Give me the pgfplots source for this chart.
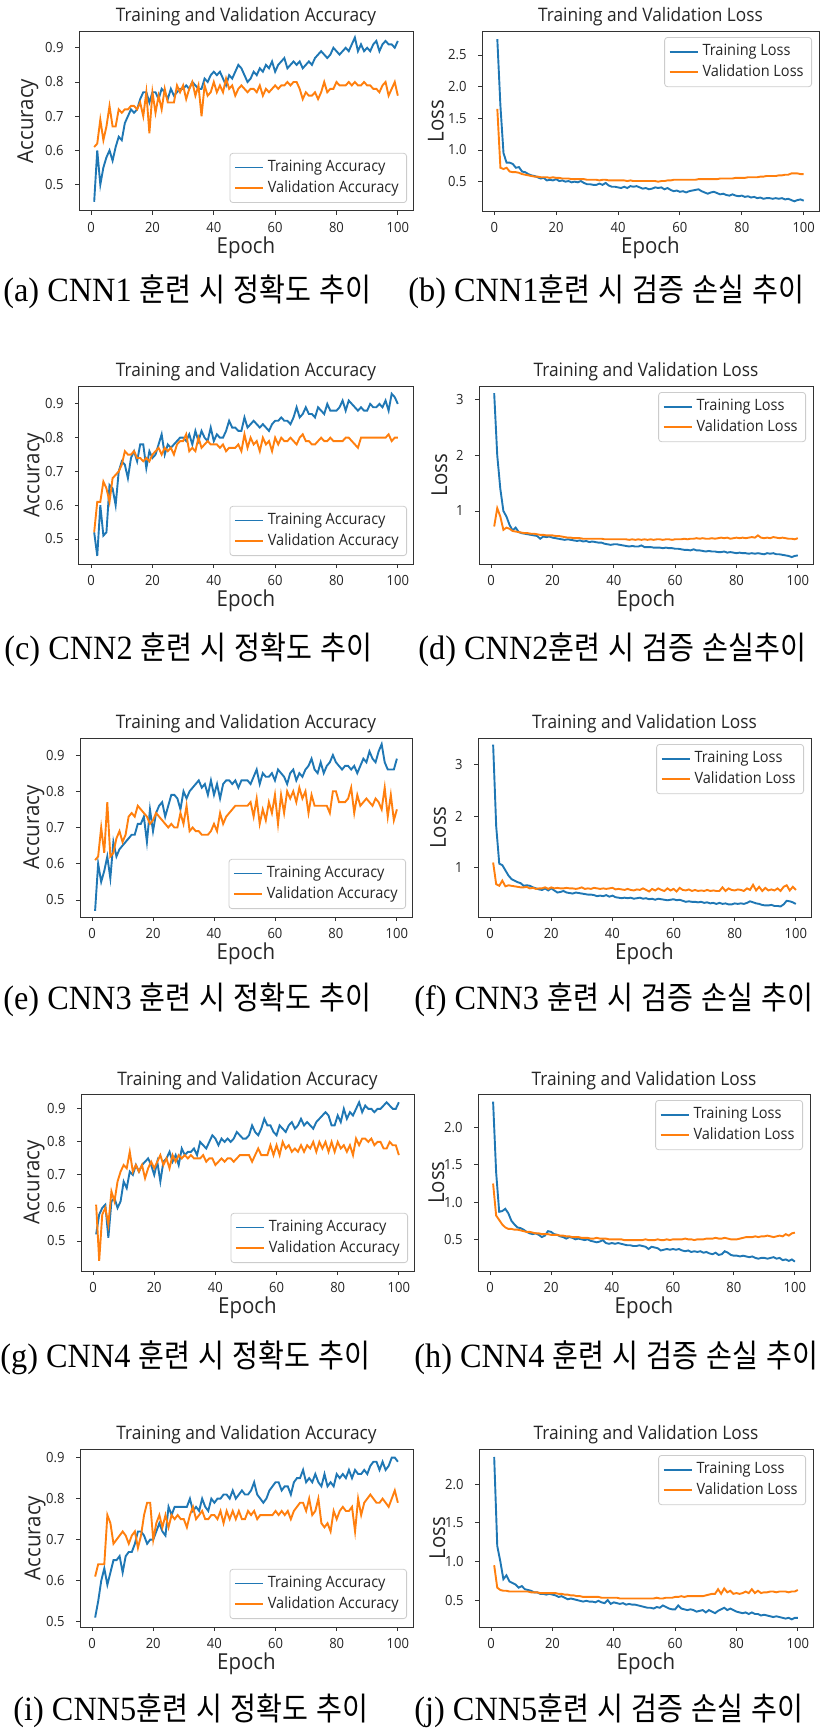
\documentclass[border=0pt]{standalone}
\usepackage{fontspec}
\usepackage{pgfplots}
\usepackage{pgfplotstable}
\pgfplotsset{compat=1.18}
\setmainfont{Open Sans}[FakeStretch=0.93]
\newfontfamily\capfont{Liberation Serif}[FakeStretch=0.95]
\newfontfamily\krfont{Noto Sans CJK KR}[FakeStretch=0.88,WordSpace=1.3]
\definecolor{C0}{RGB}{31,119,180}
\definecolor{C1}{RGB}{255,127,14}
\newcommand\tickf{\fontsize{7pt}{8pt}\selectfont}
\newcommand\titlef{\fontsize{9.3pt}{10pt}\selectfont}
\newcommand\labelf{\fontsize{11pt}{12pt}\selectfont}
\newcommand\legf{\fontsize{7.8pt}{9pt}\selectfont}
\newcommand\capL{\capfont\fontsize{17pt}{19pt}\selectfont}
\newcommand\capK{\krfont\fontsize{16pt}{19pt}\selectfont}

% ---------- CNN1 ----------
\pgfplotstableread[row sep=\\,header=false]{0.45\\0.60\\0.50\\0.55\\0.58\\0.60\\0.57\\0.61\\0.64\\0.63\\0.68\\0.70\\0.72\\0.71\\0.72\\0.75\\0.77\\0.77\\0.74\\0.77\\0.77\\0.75\\0.78\\0.77\\0.75\\0.78\\0.76\\0.77\\0.78\\0.78\\0.79\\0.78\\0.80\\0.79\\0.78\\0.78\\0.81\\0.80\\0.82\\0.83\\0.82\\0.83\\0.81\\0.79\\0.82\\0.81\\0.83\\0.85\\0.84\\0.82\\0.80\\0.81\\0.83\\0.82\\0.84\\0.83\\0.85\\0.84\\0.86\\0.83\\0.85\\0.86\\0.87\\0.84\\0.85\\0.86\\0.85\\0.86\\0.84\\0.85\\0.86\\0.85\\0.87\\0.88\\0.89\\0.88\\0.87\\0.88\\0.90\\0.89\\0.88\\0.89\\0.90\\0.89\\0.91\\0.93\\0.89\\0.91\\0.89\\0.90\\0.89\\0.91\\0.92\\0.89\\0.91\\0.92\\0.91\\0.91\\0.90\\0.92\\}\aTA
\pgfplotstableread[row sep=\\,header=false]{0.61\\0.62\\0.69\\0.63\\0.67\\0.73\\0.67\\0.67\\0.72\\0.71\\0.72\\0.72\\0.73\\0.73\\0.72\\0.74\\0.70\\0.77\\0.65\\0.77\\0.71\\0.76\\0.72\\0.78\\0.74\\0.74\\0.74\\0.79\\0.77\\0.79\\0.75\\0.78\\0.80\\0.76\\0.79\\0.70\\0.79\\0.76\\0.77\\0.80\\0.77\\0.79\\0.77\\0.81\\0.78\\0.79\\0.76\\0.78\\0.79\\0.78\\0.77\\0.78\\0.78\\0.77\\0.79\\0.76\\0.78\\0.77\\0.78\\0.79\\0.78\\0.79\\0.79\\0.80\\0.79\\0.80\\0.80\\0.78\\0.75\\0.77\\0.76\\0.76\\0.77\\0.75\\0.77\\0.80\\0.77\\0.78\\0.78\\0.80\\0.79\\0.79\\0.79\\0.80\\0.79\\0.80\\0.79\\0.79\\0.80\\0.79\\0.79\\0.78\\0.78\\0.77\\0.79\\0.80\\0.76\\0.78\\0.80\\0.76\\}\aVA
\pgfplotstableread[row sep=\\,header=false]{2.75\\1.70\\0.95\\0.80\\0.80\\0.78\\0.72\\0.73\\0.66\\0.65\\0.62\\0.60\\0.59\\0.57\\0.55\\0.56\\0.52\\0.53\\0.52\\0.54\\0.51\\0.52\\0.50\\0.51\\0.49\\0.50\\0.49\\0.51\\0.48\\0.46\\0.46\\0.45\\0.45\\0.47\\0.45\\0.48\\0.44\\0.42\\0.42\\0.41\\0.40\\0.42\\0.40\\0.43\\0.42\\0.43\\0.41\\0.39\\0.40\\0.38\\0.39\\0.41\\0.40\\0.41\\0.38\\0.40\\0.37\\0.35\\0.36\\0.34\\0.35\\0.33\\0.35\\0.36\\0.37\\0.38\\0.35\\0.33\\0.31\\0.33\\0.34\\0.32\\0.30\\0.31\\0.29\\0.28\\0.30\\0.28\\0.27\\0.28\\0.26\\0.27\\0.25\\0.26\\0.24\\0.25\\0.23\\0.24\\0.24\\0.23\\0.24\\0.23\\0.24\\0.22\\0.23\\0.21\\0.19\\0.21\\0.22\\0.20\\}\aTL
\pgfplotstableread[row sep=\\,header=false]{1.65\\0.72\\0.70\\0.72\\0.66\\0.65\\0.65\\0.64\\0.62\\0.61\\0.60\\0.59\\0.58\\0.58\\0.57\\0.57\\0.57\\0.56\\0.57\\0.56\\0.56\\0.55\\0.55\\0.55\\0.54\\0.54\\0.54\\0.54\\0.54\\0.53\\0.53\\0.53\\0.53\\0.52\\0.53\\0.53\\0.52\\0.52\\0.52\\0.52\\0.52\\0.52\\0.51\\0.52\\0.51\\0.51\\0.51\\0.51\\0.51\\0.51\\0.51\\0.51\\0.50\\0.51\\0.51\\0.52\\0.52\\0.53\\0.53\\0.53\\0.53\\0.53\\0.53\\0.53\\0.53\\0.54\\0.54\\0.54\\0.54\\0.54\\0.54\\0.54\\0.55\\0.55\\0.55\\0.55\\0.55\\0.56\\0.56\\0.56\\0.56\\0.57\\0.57\\0.57\\0.57\\0.58\\0.58\\0.59\\0.59\\0.59\\0.59\\0.60\\0.60\\0.61\\0.61\\0.63\\0.63\\0.63\\0.62\\0.62\\}\aVL
% ---------- CNN2 ----------
\pgfplotstableread[row sep=\\,header=false]{0.52\\0.45\\0.60\\0.51\\0.52\\0.66\\0.65\\0.60\\0.70\\0.73\\0.72\\0.68\\0.74\\0.76\\0.73\\0.78\\0.78\\0.71\\0.76\\0.74\\0.75\\0.78\\0.81\\0.75\\0.78\\0.77\\0.78\\0.79\\0.80\\0.80\\0.79\\0.81\\0.78\\0.82\\0.79\\0.82\\0.80\\0.79\\0.83\\0.79\\0.81\\0.80\\0.80\\0.82\\0.85\\0.83\\0.83\\0.82\\0.82\\0.86\\0.83\\0.84\\0.85\\0.84\\0.83\\0.84\\0.83\\0.82\\0.84\\0.85\\0.85\\0.86\\0.85\\0.85\\0.84\\0.86\\0.89\\0.86\\0.87\\0.89\\0.87\\0.87\\0.86\\0.89\\0.88\\0.87\\0.90\\0.88\\0.88\\0.88\\0.89\\0.91\\0.88\\0.91\\0.90\\0.89\\0.88\\0.89\\0.88\\0.88\\0.90\\0.89\\0.89\\0.90\\0.89\\0.91\\0.88\\0.93\\0.92\\0.90\\}\bTA
\pgfplotstableread[row sep=\\,header=false]{0.52\\0.61\\0.61\\0.67\\0.65\\0.61\\0.68\\0.69\\0.70\\0.72\\0.76\\0.75\\0.75\\0.76\\0.74\\0.74\\0.73\\0.74\\0.73\\0.75\\0.76\\0.77\\0.75\\0.77\\0.76\\0.77\\0.75\\0.78\\0.79\\0.79\\0.81\\0.76\\0.77\\0.76\\0.80\\0.77\\0.78\\0.79\\0.78\\0.78\\0.78\\0.77\\0.78\\0.76\\0.77\\0.77\\0.77\\0.78\\0.76\\0.81\\0.77\\0.80\\0.78\\0.79\\0.76\\0.80\\0.78\\0.79\\0.76\\0.80\\0.78\\0.80\\0.79\\0.79\\0.80\\0.79\\0.78\\0.80\\0.81\\0.79\\0.79\\0.78\\0.78\\0.79\\0.80\\0.79\\0.79\\0.80\\0.79\\0.79\\0.79\\0.79\\0.80\\0.80\\0.79\\0.78\\0.77\\0.80\\0.80\\0.80\\0.80\\0.80\\0.80\\0.80\\0.80\\0.80\\0.81\\0.79\\0.80\\0.80\\}\bVA
\pgfplotstableread[row sep=\\,header=false]{3.12\\2.00\\1.40\\1.00\\0.90\\0.75\\0.65\\0.70\\0.62\\0.60\\0.59\\0.58\\0.57\\0.56\\0.55\\0.50\\0.54\\0.53\\0.54\\0.52\\0.51\\0.50\\0.49\\0.48\\0.49\\0.48\\0.47\\0.46\\0.47\\0.45\\0.46\\0.44\\0.45\\0.44\\0.43\\0.43\\0.41\\0.40\\0.39\\0.40\\0.40\\0.39\\0.38\\0.37\\0.36\\0.37\\0.36\\0.36\\0.38\\0.35\\0.35\\0.35\\0.34\\0.34\\0.34\\0.33\\0.34\\0.33\\0.33\\0.32\\0.32\\0.31\\0.30\\0.30\\0.29\\0.31\\0.29\\0.29\\0.28\\0.27\\0.28\\0.27\\0.27\\0.26\\0.26\\0.27\\0.25\\0.26\\0.25\\0.24\\0.25\\0.24\\0.24\\0.23\\0.24\\0.23\\0.24\\0.23\\0.22\\0.24\\0.23\\0.24\\0.22\\0.22\\0.21\\0.20\\0.19\\0.17\\0.19\\0.20\\}\bTL
\pgfplotstableread[row sep=\\,header=false]{0.72\\1.05\\0.90\\0.66\\0.70\\0.68\\0.64\\0.63\\0.62\\0.61\\0.60\\0.60\\0.59\\0.59\\0.58\\0.57\\0.57\\0.56\\0.56\\0.56\\0.55\\0.55\\0.54\\0.53\\0.52\\0.52\\0.51\\0.51\\0.51\\0.50\\0.50\\0.50\\0.50\\0.50\\0.50\\0.50\\0.49\\0.49\\0.49\\0.49\\0.49\\0.49\\0.49\\0.49\\0.48\\0.49\\0.48\\0.49\\0.48\\0.49\\0.48\\0.49\\0.48\\0.49\\0.49\\0.48\\0.49\\0.49\\0.48\\0.49\\0.49\\0.49\\0.50\\0.49\\0.50\\0.50\\0.51\\0.50\\0.51\\0.50\\0.50\\0.51\\0.50\\0.51\\0.52\\0.51\\0.52\\0.50\\0.51\\0.52\\0.51\\0.52\\0.51\\0.52\\0.53\\0.52\\0.56\\0.52\\0.51\\0.52\\0.51\\0.53\\0.52\\0.51\\0.52\\0.51\\0.50\\0.50\\0.49\\0.51\\}\bVL
% ---------- CNN3 ----------
\pgfplotstableread[row sep=\\,header=false]{0.47\\0.60\\0.55\\0.58\\0.62\\0.56\\0.66\\0.62\\0.64\\0.65\\0.66\\0.67\\0.68\\0.68\\0.71\\0.71\\0.73\\0.66\\0.75\\0.69\\0.74\\0.76\\0.77\\0.73\\0.76\\0.79\\0.79\\0.78\\0.75\\0.80\\0.78\\0.80\\0.81\\0.82\\0.83\\0.81\\0.82\\0.79\\0.83\\0.79\\0.82\\0.78\\0.82\\0.83\\0.83\\0.82\\0.83\\0.81\\0.83\\0.83\\0.83\\0.82\\0.84\\0.86\\0.82\\0.85\\0.84\\0.84\\0.85\\0.83\\0.86\\0.85\\0.84\\0.82\\0.85\\0.86\\0.83\\0.85\\0.84\\0.86\\0.87\\0.89\\0.86\\0.85\\0.88\\0.85\\0.87\\0.88\\0.90\\0.88\\0.87\\0.86\\0.87\\0.87\\0.86\\0.87\\0.85\\0.87\\0.89\\0.88\\0.91\\0.89\\0.88\\0.91\\0.93\\0.88\\0.86\\0.86\\0.86\\0.89\\}\cTA
\pgfplotstableread[row sep=\\,header=false]{0.61\\0.62\\0.70\\0.63\\0.77\\0.62\\0.63\\0.67\\0.69\\0.66\\0.68\\0.73\\0.74\\0.73\\0.76\\0.75\\0.74\\0.73\\0.71\\0.72\\0.74\\0.73\\0.72\\0.71\\0.70\\0.71\\0.70\\0.70\\0.74\\0.71\\0.76\\0.69\\0.70\\0.69\\0.69\\0.68\\0.68\\0.68\\0.69\\0.71\\0.69\\0.74\\0.71\\0.73\\0.74\\0.75\\0.76\\0.76\\0.76\\0.76\\0.76\\0.77\\0.73\\0.78\\0.71\\0.75\\0.72\\0.77\\0.74\\0.79\\0.71\\0.79\\0.74\\0.80\\0.78\\0.80\\0.77\\0.81\\0.78\\0.80\\0.74\\0.79\\0.76\\0.76\\0.76\\0.76\\0.76\\0.74\\0.80\\0.80\\0.77\\0.77\\0.77\\0.78\\0.81\\0.74\\0.79\\0.76\\0.77\\0.78\\0.77\\0.76\\0.78\\0.77\\0.75\\0.81\\0.73\\0.79\\0.72\\0.75\\}\cVA
\pgfplotstableread[row sep=\\,header=false]{3.38\\1.80\\1.08\\1.05\\0.95\\0.85\\0.78\\0.75\\0.72\\0.70\\0.65\\0.66\\0.65\\0.62\\0.60\\0.58\\0.57\\0.60\\0.56\\0.60\\0.56\\0.52\\0.53\\0.55\\0.52\\0.51\\0.50\\0.52\\0.51\\0.50\\0.49\\0.48\\0.48\\0.47\\0.45\\0.46\\0.45\\0.47\\0.44\\0.46\\0.43\\0.42\\0.41\\0.42\\0.41\\0.42\\0.40\\0.41\\0.42\\0.40\\0.41\\0.39\\0.40\\0.38\\0.40\\0.39\\0.38\\0.37\\0.38\\0.39\\0.37\\0.38\\0.36\\0.34\\0.35\\0.34\\0.34\\0.33\\0.34\\0.32\\0.33\\0.31\\0.32\\0.30\\0.32\\0.30\\0.31\\0.29\\0.29\\0.31\\0.30\\0.31\\0.30\\0.32\\0.35\\0.33\\0.31\\0.30\\0.28\\0.27\\0.27\\0.28\\0.26\\0.26\\0.25\\0.29\\0.36\\0.35\\0.33\\0.30\\}\cTL
\pgfplotstableread[row sep=\\,header=false]{1.10\\0.68\\0.65\\0.75\\0.64\\0.66\\0.65\\0.64\\0.63\\0.62\\0.62\\0.63\\0.60\\0.61\\0.59\\0.60\\0.60\\0.62\\0.59\\0.62\\0.60\\0.61\\0.60\\0.60\\0.61\\0.60\\0.60\\0.59\\0.60\\0.62\\0.59\\0.60\\0.59\\0.61\\0.60\\0.59\\0.60\\0.59\\0.60\\0.61\\0.58\\0.59\\0.58\\0.57\\0.59\\0.57\\0.56\\0.58\\0.57\\0.60\\0.57\\0.54\\0.59\\0.56\\0.60\\0.57\\0.55\\0.60\\0.56\\0.59\\0.54\\0.61\\0.57\\0.56\\0.58\\0.55\\0.57\\0.55\\0.56\\0.55\\0.57\\0.55\\0.56\\0.55\\0.55\\0.62\\0.55\\0.60\\0.57\\0.56\\0.58\\0.57\\0.55\\0.60\\0.57\\0.67\\0.56\\0.63\\0.55\\0.61\\0.56\\0.58\\0.56\\0.60\\0.55\\0.63\\0.66\\0.56\\0.63\\0.57\\}\cVL
% ---------- CNN4 ----------
\pgfplotstableread[row sep=\\,header=false]{0.52\\0.58\\0.60\\0.61\\0.51\\0.62\\0.63\\0.60\\0.62\\0.68\\0.66\\0.71\\0.70\\0.73\\0.71\\0.73\\0.74\\0.75\\0.73\\0.70\\0.74\\0.68\\0.74\\0.75\\0.77\\0.74\\0.76\\0.73\\0.78\\0.76\\0.77\\0.77\\0.78\\0.76\\0.80\\0.79\\0.78\\0.80\\0.82\\0.81\\0.79\\0.81\\0.80\\0.81\\0.80\\0.81\\0.83\\0.82\\0.81\\0.81\\0.82\\0.85\\0.83\\0.82\\0.84\\0.87\\0.85\\0.85\\0.83\\0.82\\0.85\\0.84\\0.83\\0.85\\0.86\\0.84\\0.85\\0.87\\0.85\\0.86\\0.85\\0.84\\0.86\\0.87\\0.88\\0.89\\0.88\\0.85\\0.85\\0.88\\0.86\\0.90\\0.87\\0.89\\0.88\\0.90\\0.92\\0.89\\0.91\\0.90\\0.90\\0.89\\0.90\\0.90\\0.91\\0.92\\0.91\\0.90\\0.90\\0.92\\}\dTA
\pgfplotstableread[row sep=\\,header=false]{0.61\\0.44\\0.58\\0.60\\0.55\\0.65\\0.62\\0.68\\0.71\\0.73\\0.72\\0.77\\0.71\\0.73\\0.71\\0.73\\0.69\\0.72\\0.74\\0.72\\0.74\\0.76\\0.73\\0.75\\0.72\\0.76\\0.74\\0.76\\0.75\\0.76\\0.75\\0.76\\0.75\\0.75\\0.75\\0.76\\0.74\\0.75\\0.75\\0.73\\0.74\\0.75\\0.74\\0.75\\0.75\\0.74\\0.75\\0.76\\0.76\\0.76\\0.76\\0.74\\0.76\\0.78\\0.76\\0.76\\0.76\\0.79\\0.76\\0.79\\0.76\\0.80\\0.78\\0.79\\0.77\\0.78\\0.77\\0.79\\0.77\\0.79\\0.78\\0.80\\0.77\\0.80\\0.78\\0.80\\0.77\\0.80\\0.77\\0.80\\0.78\\0.79\\0.77\\0.79\\0.76\\0.81\\0.79\\0.81\\0.81\\0.80\\0.81\\0.79\\0.80\\0.80\\0.78\\0.78\\0.80\\0.79\\0.79\\0.76\\}\dVA
\pgfplotstableread[row sep=\\,header=false]{2.35\\1.40\\0.87\\0.88\\0.91\\0.85\\0.75\\0.70\\0.66\\0.65\\0.63\\0.60\\0.58\\0.57\\0.58\\0.56\\0.53\\0.55\\0.61\\0.60\\0.57\\0.56\\0.54\\0.53\\0.51\\0.53\\0.52\\0.50\\0.51\\0.50\\0.49\\0.50\\0.48\\0.47\\0.46\\0.47\\0.49\\0.45\\0.44\\0.45\\0.44\\0.45\\0.44\\0.43\\0.42\\0.42\\0.41\\0.41\\0.42\\0.41\\0.40\\0.37\\0.40\\0.39\\0.38\\0.35\\0.36\\0.37\\0.36\\0.37\\0.36\\0.37\\0.35\\0.34\\0.35\\0.33\\0.34\\0.33\\0.34\\0.32\\0.33\\0.31\\0.30\\0.32\\0.29\\0.30\\0.34\\0.32\\0.29\\0.28\\0.28\\0.27\\0.28\\0.27\\0.26\\0.27\\0.25\\0.24\\0.25\\0.25\\0.24\\0.25\\0.26\\0.24\\0.25\\0.22\\0.23\\0.21\\0.23\\0.20\\}\dTL
\pgfplotstableread[row sep=\\,header=false]{1.25\\0.82\\0.76\\0.70\\0.66\\0.64\\0.64\\0.63\\0.63\\0.62\\0.61\\0.60\\0.60\\0.59\\0.58\\0.58\\0.57\\0.57\\0.57\\0.56\\0.56\\0.56\\0.55\\0.55\\0.54\\0.54\\0.53\\0.53\\0.53\\0.52\\0.52\\0.52\\0.51\\0.51\\0.52\\0.51\\0.51\\0.51\\0.50\\0.50\\0.50\\0.50\\0.50\\0.49\\0.49\\0.49\\0.49\\0.49\\0.49\\0.49\\0.50\\0.49\\0.49\\0.49\\0.50\\0.49\\0.49\\0.50\\0.49\\0.50\\0.50\\0.50\\0.50\\0.51\\0.50\\0.50\\0.49\\0.50\\0.50\\0.50\\0.51\\0.51\\0.51\\0.52\\0.51\\0.51\\0.52\\0.51\\0.50\\0.50\\0.50\\0.51\\0.52\\0.53\\0.53\\0.53\\0.54\\0.53\\0.54\\0.54\\0.55\\0.54\\0.53\\0.54\\0.55\\0.54\\0.57\\0.55\\0.58\\0.59\\}\dVL
% ---------- CNN5 ----------
\pgfplotstableread[row sep=\\,header=false]{0.51\\0.55\\0.60\\0.63\\0.59\\0.62\\0.65\\0.65\\0.66\\0.62\\0.66\\0.67\\0.67\\0.69\\0.72\\0.72\\0.71\\0.69\\0.70\\0.70\\0.72\\0.74\\0.72\\0.71\\0.78\\0.76\\0.78\\0.78\\0.78\\0.78\\0.78\\0.80\\0.77\\0.78\\0.77\\0.80\\0.78\\0.77\\0.80\\0.79\\0.80\\0.80\\0.81\\0.81\\0.80\\0.82\\0.80\\0.81\\0.82\\0.81\\0.81\\0.82\\0.84\\0.81\\0.80\\0.79\\0.80\\0.82\\0.83\\0.84\\0.84\\0.82\\0.83\\0.83\\0.81\\0.84\\0.85\\0.85\\0.87\\0.84\\0.85\\0.84\\0.86\\0.84\\0.83\\0.86\\0.83\\0.84\\0.83\\0.86\\0.85\\0.86\\0.85\\0.87\\0.85\\0.87\\0.86\\0.86\\0.87\\0.86\\0.88\\0.89\\0.89\\0.87\\0.89\\0.87\\0.88\\0.90\\0.90\\0.89\\}\eTA
\pgfplotstableread[row sep=\\,header=false]{0.61\\0.64\\0.64\\0.64\\0.76\\0.74\\0.69\\0.70\\0.71\\0.72\\0.71\\0.69\\0.71\\0.72\\0.68\\0.71\\0.76\\0.79\\0.79\\0.70\\0.74\\0.76\\0.73\\0.76\\0.73\\0.76\\0.75\\0.76\\0.75\\0.75\\0.73\\0.76\\0.78\\0.75\\0.76\\0.77\\0.75\\0.75\\0.76\\0.76\\0.75\\0.77\\0.74\\0.77\\0.75\\0.77\\0.75\\0.77\\0.75\\0.75\\0.77\\0.76\\0.77\\0.75\\0.76\\0.76\\0.76\\0.76\\0.76\\0.77\\0.76\\0.77\\0.76\\0.77\\0.75\\0.77\\0.78\\0.79\\0.79\\0.77\\0.80\\0.76\\0.77\\0.80\\0.74\\0.73\\0.74\\0.72\\0.77\\0.75\\0.77\\0.78\\0.77\\0.77\\0.78\\0.72\\0.80\\0.76\\0.79\\0.80\\0.81\\0.80\\0.79\\0.79\\0.80\\0.79\\0.78\\0.80\\0.82\\0.79\\}\eVA
\pgfplotstableread[row sep=\\,header=false]{2.35\\1.20\\1.00\\0.77\\0.82\\0.74\\0.72\\0.70\\0.66\\0.68\\0.64\\0.63\\0.62\\0.60\\0.60\\0.58\\0.58\\0.57\\0.58\\0.57\\0.56\\0.54\\0.55\\0.53\\0.51\\0.52\\0.51\\0.50\\0.49\\0.48\\0.49\\0.48\\0.48\\0.47\\0.49\\0.47\\0.46\\0.50\\0.45\\0.47\\0.46\\0.45\\0.46\\0.44\\0.45\\0.44\\0.44\\0.43\\0.42\\0.41\\0.40\\0.40\\0.39\\0.41\\0.40\\0.43\\0.41\\0.39\\0.38\\0.38\\0.43\\0.39\\0.38\\0.37\\0.38\\0.37\\0.35\\0.36\\0.37\\0.34\\0.37\\0.35\\0.33\\0.36\\0.38\\0.40\\0.37\\0.39\\0.37\\0.35\\0.34\\0.33\\0.34\\0.32\\0.34\\0.32\\0.32\\0.30\\0.31\\0.30\\0.29\\0.28\\0.29\\0.28\\0.27\\0.26\\0.27\\0.25\\0.27\\0.27\\}\eTL
\pgfplotstableread[row sep=\\,header=false]{0.95\\0.66\\0.63\\0.62\\0.62\\0.61\\0.61\\0.61\\0.61\\0.61\\0.61\\0.61\\0.60\\0.60\\0.60\\0.59\\0.59\\0.59\\0.59\\0.59\\0.59\\0.58\\0.58\\0.57\\0.57\\0.56\\0.56\\0.55\\0.55\\0.54\\0.54\\0.54\\0.54\\0.54\\0.54\\0.53\\0.53\\0.53\\0.53\\0.53\\0.53\\0.52\\0.52\\0.52\\0.52\\0.52\\0.52\\0.52\\0.52\\0.52\\0.52\\0.52\\0.52\\0.53\\0.52\\0.52\\0.53\\0.53\\0.53\\0.54\\0.54\\0.55\\0.54\\0.55\\0.55\\0.55\\0.55\\0.55\\0.55\\0.56\\0.57\\0.58\\0.58\\0.64\\0.58\\0.65\\0.60\\0.62\\0.58\\0.59\\0.58\\0.59\\0.61\\0.59\\0.64\\0.59\\0.62\\0.59\\0.60\\0.60\\0.61\\0.61\\0.60\\0.61\\0.61\\0.61\\0.60\\0.61\\0.61\\0.63\\}\eVL

\pgfplotsset{
  trn/.style={C0, line width=0.95pt},
  vld/.style={C1, line width=0.95pt},
  mpl/.style={
    scale only axis, anchor=north west,
    xmin=-3.95, xmax=104.95, xtick={0,20,40,60,80,100},
    scaled ticks=false, no markers, clip=true,
    tick align=outside, major tick length=2pt,
    xtick pos=left, ytick pos=left,
    axis line style={black!80, line width=0.5pt},
    every tick/.style={black!80, line width=0.45pt},
    /pgf/number format/assume math mode=true,
    ticklabel style={font=\tickf, text=black!85},
    xticklabel style={inner sep=0pt, yshift=-3.5pt},
    yticklabel style={xshift=-2.2pt},
    xlabel={Epoch},
    every axis title/.style={at={(axis description cs:0.5,1.078)},anchor=center,font=\titlef,text=black!85},
    every axis x label/.style={at={(axis description cs:0.5,-0.205)},anchor=center,inner sep=0pt,font=\labelf,text=black!85},
    legend cell align=left,
    legend image code/.code={\draw[##1] (0pt,0pt) -- (14pt,0pt);},
    legend style={font=\legf, text=black!85, draw=black!20, rounded corners=1.5pt,
      fill=white, fill opacity=0.8, text opacity=1, inner xsep=2pt, inner ysep=1.5pt,
      row sep=-1pt},
  },
  ylx/.style={every axis y label/.style={at={(axis description cs:-#1,0.5)},rotate=90,anchor=center,inner sep=0pt,font=\labelf,text=black!85}},
  acc/.style={mpl, title={Training and Validation Accuracy}, ylabel={Accuracy},
    ytick={0.5,0.6,0.7,0.8,0.9},
    yticklabel style={/pgf/number format/.cd, fixed, fixed zerofill, precision=1},
    legend style={at={(axis description cs:1,0)}, anchor=south east, xshift=-3pt, yshift=4pt}},
  loss/.style={mpl, title={Training and Validation Loss}, ylabel={Loss},
    legend style={at={(axis description cs:1,1)}, anchor=north east, xshift=-3.5pt, yshift=-3pt}},
  onedec/.style={yticklabel style={/pgf/number format/.cd, fixed, fixed zerofill, precision=1}},
}

\begin{document}
\begin{tikzpicture}
\useasboundingbox (0,0) rectangle (413.5pt,-865pt);

% (a)
\begin{axis}[acc, at={(39.5pt,-15.5pt)}, width=167pt, height=90pt, ymin=0.423, ymax=0.949, ylx=0.1527]
\addplot[trn] table[x expr=\coordindex+1, y index=0]{\aTA}; \addlegendentry{Training Accuracy}
\addplot[vld] table[x expr=\coordindex+1, y index=0]{\aVA}; \addlegendentry{Validation Accuracy}
\end{axis}
% (b)
\begin{axis}[loss, onedec, at={(241pt,-15.5pt)}, width=168.5pt, height=90pt, ymin=0.037, ymax=2.879, ytick={0.5,1.0,1.5,2.0,2.5}, ylx=0.1365]
\addplot[trn] table[x expr=\coordindex+1, y index=0]{\aTL}; \addlegendentry{Training Loss}
\addplot[vld] table[x expr=\coordindex+1, y index=0]{\aVL}; \addlegendentry{Validation Loss}
\end{axis}
% (c)
\begin{axis}[acc, at={(39.5pt,-193pt)}, width=167pt, height=89pt, ymin=0.426, ymax=0.953, ylx=0.1347]
\addplot[trn] table[x expr=\coordindex+1, y index=0]{\bTA}; \addlegendentry{Training Accuracy}
\addplot[vld] table[x expr=\coordindex+1, y index=0]{\bVA}; \addlegendentry{Validation Accuracy}
\end{axis}
% (d)
\begin{axis}[loss, at={(239.5pt,-193pt)}, width=167pt, height=89pt, ymin=0.045, ymax=3.25, ytick={1,2,3}, ylx=0.1183]
\addplot[trn] table[x expr=\coordindex+1, y index=0]{\bTL}; \addlegendentry{Training Loss}
\addplot[vld] table[x expr=\coordindex+1, y index=0]{\bVL}; \addlegendentry{Validation Loss}
\end{axis}
% (e)
\begin{axis}[acc, at={(40pt,-369pt)}, width=166pt, height=89.5pt, ymin=0.453, ymax=0.947, ylx=0.1386]
\addplot[trn] table[x expr=\coordindex+1, y index=0]{\cTA}; \addlegendentry{Training Accuracy}
\addplot[vld] table[x expr=\coordindex+1, y index=0]{\cVA}; \addlegendentry{Validation Accuracy}
\end{axis}
% (f)
\begin{axis}[loss, at={(239pt,-369pt)}, width=166.5pt, height=89.5pt, ymin=0.046, ymax=3.509, ytick={1,2,3}, ylx=0.1201]
\addplot[trn] table[x expr=\coordindex+1, y index=0]{\cTL}; \addlegendentry{Training Loss}
\addplot[vld] table[x expr=\coordindex+1, y index=0]{\cVL}; \addlegendentry{Validation Loss}
\end{axis}
% (g)
\begin{axis}[acc, at={(40.5pt,-547pt)}, width=166.5pt, height=88.5pt, ymin=0.409, ymax=0.945, ylx=0.1411]
\addplot[trn] table[x expr=\coordindex+1, y index=0]{\dTA}; \addlegendentry{Training Accuracy}
\addplot[vld] table[x expr=\coordindex+1, y index=0]{\dVA}; \addlegendentry{Validation Accuracy}
\end{axis}
% (h)
\begin{axis}[loss, onedec, at={(239pt,-547pt)}, width=166pt, height=88.5pt, ymin=0.074, ymax=2.453, ytick={0.5,1.0,1.5,2.0}, ylx=0.125]
\addplot[trn] table[x expr=\coordindex+1, y index=0]{\dTL}; \addlegendentry{Training Loss}
\addplot[vld] table[x expr=\coordindex+1, y index=0]{\dVL}; \addlegendentry{Validation Loss}
\end{axis}
% (i)
\begin{axis}[acc, at={(40pt,-724.5pt)}, width=166.5pt, height=89pt, ymin=0.487, ymax=0.921, ylx=0.1351]
\addplot[trn] table[x expr=\coordindex+1, y index=0]{\eTA}; \addlegendentry{Training Accuracy}
\addplot[vld] table[x expr=\coordindex+1, y index=0]{\eVA}; \addlegendentry{Validation Accuracy}
\end{axis}
% (j)
\begin{axis}[loss, onedec, at={(239.5pt,-724.5pt)}, width=167pt, height=89pt, ymin=0.151, ymax=2.453, ytick={0.5,1.0,1.5,2.0}, ylx=0.1243]
\addplot[trn] table[x expr=\coordindex+1, y index=0]{\eTL}; \addlegendentry{Training Loss}
\addplot[vld] table[x expr=\coordindex+1, y index=0]{\eVL}; \addlegendentry{Validation Loss}
\end{axis}

% captions
\begin{scope}[every node/.style={anchor=west, inner sep=0pt}]
\node at (1.5pt,-146pt) {\capL (a) CNN1 \capK 훈련 시 정확도 추이};
\node at (204pt,-146pt) {\capL (b) CNN1\capK 훈련 시 검증 손실 추이};
\node at (2pt,-325pt) {\capL (c) CNN2 \capK 훈련 시 정확도 추이};
\node at (209pt,-325pt) {\capL (d) CNN2\capK 훈련 시 검증 손실추이};
\node at (1.5pt,-500pt) {\capL (e) CNN3 \capK 훈련 시 정확도 추이};
\node at (207pt,-500pt) {\capL (f) CNN3 \capK 훈련 시 검증 손실 추이};
\node at (0pt,-679pt) {\capL (g) CNN4 \capK 훈련 시 정확도 추이};
\node at (207pt,-679pt) {\capL (h) CNN4 \capK 훈련 시 검증 손실 추이};
\node at (6.5pt,-855.5pt) {\capL (i) CNN5\capK 훈련 시 정확도 추이};
\node at (207pt,-855.5pt) {\capL (j) CNN5\capK 훈련 시 검증 손실 추이};
\end{scope}
\end{tikzpicture}
\end{document}
